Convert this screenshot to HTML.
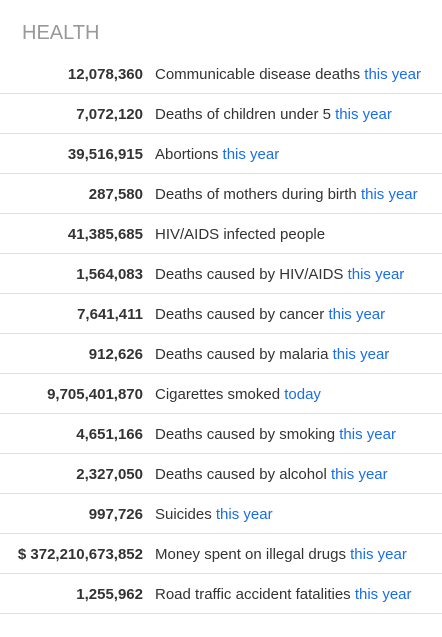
<!DOCTYPE html>
<html><head><meta charset="utf-8"><style>
body{margin:0;width:442px;height:637px;background:#fff;font-family:"Liberation Sans",Arial,sans-serif;overflow:hidden}
h2{position:absolute;left:22px;top:21px;margin:0;font-size:20px;font-weight:normal;color:#999;line-height:24px}
table{position:absolute;left:0;top:54px;width:442px;border-collapse:collapse}
td{height:38px;border-bottom:1px solid #e0e0e0;font-size:15px;color:#333;padding:1px 0 0 0;white-space:nowrap}
td.n{width:143px;text-align:right;font-weight:bold;padding-right:12px}
a{color:#1a6ee8;text-decoration:none}
</style></head><body>
<h2>HEALTH</h2>
<table>
<tr><td class="n">12,078,360</td><td>Communicable disease deaths <a href="#">this year</a></td></tr>
<tr><td class="n">7,072,120</td><td>Deaths of children under 5 <a href="#">this year</a></td></tr>
<tr><td class="n">39,516,915</td><td>Abortions <a href="#">this year</a></td></tr>
<tr><td class="n">287,580</td><td>Deaths of mothers during birth <a href="#">this year</a></td></tr>
<tr><td class="n">41,385,685</td><td>HIV/AIDS infected people</td></tr>
<tr><td class="n">1,564,083</td><td>Deaths caused by HIV/AIDS <a href="#">this year</a></td></tr>
<tr><td class="n">7,641,411</td><td>Deaths caused by cancer <a href="#">this year</a></td></tr>
<tr><td class="n">912,626</td><td>Deaths caused by malaria <a href="#">this year</a></td></tr>
<tr><td class="n">9,705,401,870</td><td>Cigarettes smoked <a href="#">today</a></td></tr>
<tr><td class="n">4,651,166</td><td>Deaths caused by smoking <a href="#">this year</a></td></tr>
<tr><td class="n">2,327,050</td><td>Deaths caused by alcohol <a href="#">this year</a></td></tr>
<tr><td class="n">997,726</td><td>Suicides <a href="#">this year</a></td></tr>
<tr><td class="n">$ 372,210,673,852</td><td>Money spent on illegal drugs <a href="#">this year</a></td></tr>
<tr><td class="n">1,255,962</td><td>Road traffic accident fatalities <a href="#">this year</a></td></tr>
</table>
</body></html>
